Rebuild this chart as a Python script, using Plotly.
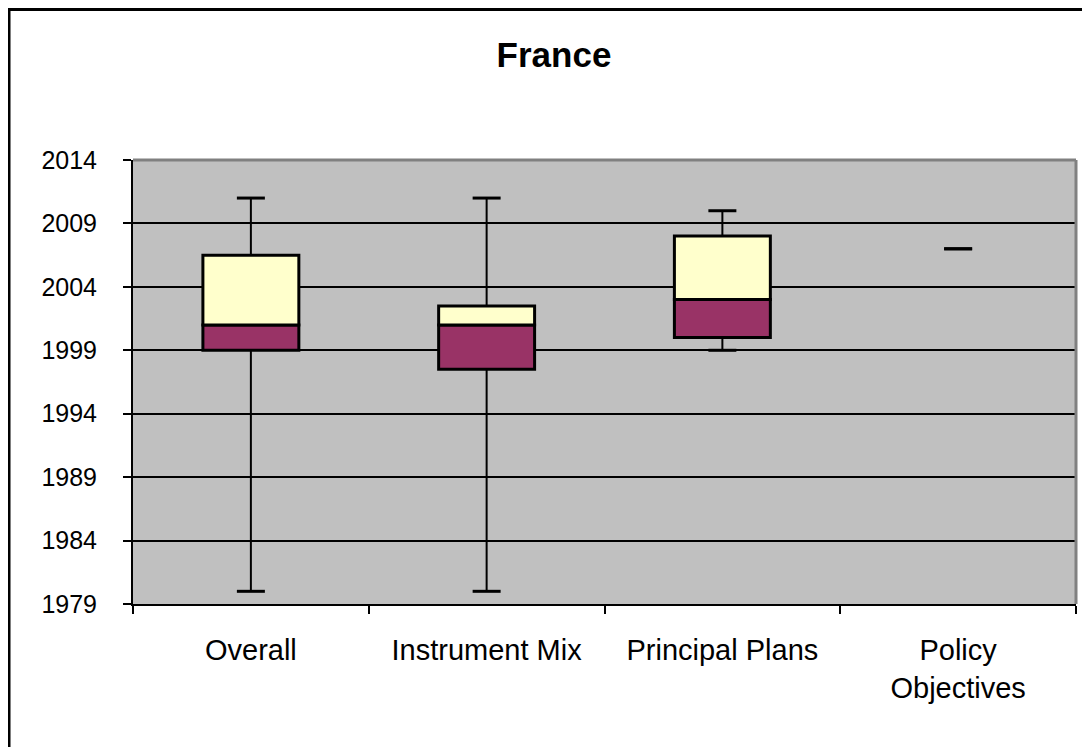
import plotly.graph_objects as go

categories = ["Overall", "Instrument Mix", "Principal Plans", "Policy<br>Objectives"]
minimum = [1980, 1980, 1999, 2007]
q1 = [1999, 1997.5, 2000, 2007]
median = [2001, 2001, 2003, 2007]
q3 = [2006.5, 2002.5, 2008, 2007]
maximum = [2011, 2011, 2010, 2007]

W, H = 1090, 747
OFF = 8  # page body margin
L, R, T, B = 133 - OFF, 1076 - OFF, 160 - OFF, 604 - OFF
FONT = "Liberation Sans, Arial, sans-serif"

lower_h = [m - a for a, m in zip(q1, median)]
upper_h = [b - m for m, b in zip(median, q3)]

fig = go.Figure()
fig.add_trace(go.Bar(
    x=categories, y=lower_h, base=q1, width=0.407,
    marker=dict(color="#993366",
                line=dict(color="black", width=[3 if h > 0 else 0 for h in lower_h])),
    showlegend=False, hoverinfo="skip"))
fig.add_trace(go.Bar(
    x=categories, y=upper_h, base=median, width=0.407,
    marker=dict(color="#FFFFCC",
                line=dict(color="black", width=[3 if h > 0 else 0 for h in upper_h])),
    showlegend=False, hoverinfo="skip"))

# whisker lines
wx, wy = [], []
for c, a, b1, b3, m in zip(categories, minimum, q1, q3, maximum):
    wx += [c, c, None, c, c, None]
    wy += [a, b1, None, b3, m, None]
fig.add_trace(go.Scatter(x=wx, y=wy, mode="lines", line=dict(color="black", width=2),
                         showlegend=False, hoverinfo="skip"))
# whisker caps
fig.add_trace(go.Scatter(x=categories + categories, y=maximum + minimum, mode="markers",
                         marker=dict(symbol="line-ew", size=20,
                                     line=dict(color="black", width=3)),
                         showlegend=False, hoverinfo="skip"))

fig.update_layout(
    barmode="overlay",
    width=W, height=H, autosize=False,
    margin=dict(l=L, r=W - R, t=T, b=H - B, pad=0),
    paper_bgcolor="white", plot_bgcolor="#C0C0C0",
    font=dict(family=FONT, color="black", size=25),
    title=dict(text="<b>France</b>", x=(554 - OFF) / W, xref="container", xanchor="center",
               y=1 - (55 - OFF) / H, yref="container", yanchor="middle",
               font=dict(family=FONT, size=35, color="black")),
    xaxis=dict(type="category", tickson="boundaries", ticks="outside", ticklen=8,
               tickwidth=2, tickcolor="black", showline=True, linecolor="black",
               linewidth=2, showgrid=False, tickfont=dict(size=29),
               ticklabelstandoff=19, range=[-0.5, 3.5]),
    yaxis=dict(range=[1979, 2014], tick0=1979, dtick=5, ticks="outside", ticklen=8,
               tickwidth=2, tickcolor="black", showline=True, linecolor="black",
               linewidth=2, showgrid=True, gridcolor="black", gridwidth=2,
               zeroline=False, tickfont=dict(size=25), ticklabelstandoff=21),
    shapes=[
        dict(type="line", xref="paper", yref="paper", x0=0, x1=1, y0=1, y1=1,
             line=dict(color="#808080", width=3), layer="above"),
        dict(type="line", xref="paper", yref="paper", x0=1, x1=1, y0=0, y1=1,
             line=dict(color="#808080", width=3), layer="above"),
        dict(type="rect", xref="paper", yref="paper",
             x0=(0.5 - L) / (R - L), x1=(1100 - L) / (R - L),
             y0=(B - 760) / (B - T), y1=(B - 1) / (B - T),
             line=dict(color="black", width=4), fillcolor="rgba(0,0,0,0)", layer="above"),
    ],
)

fig.write_html("out.html")
